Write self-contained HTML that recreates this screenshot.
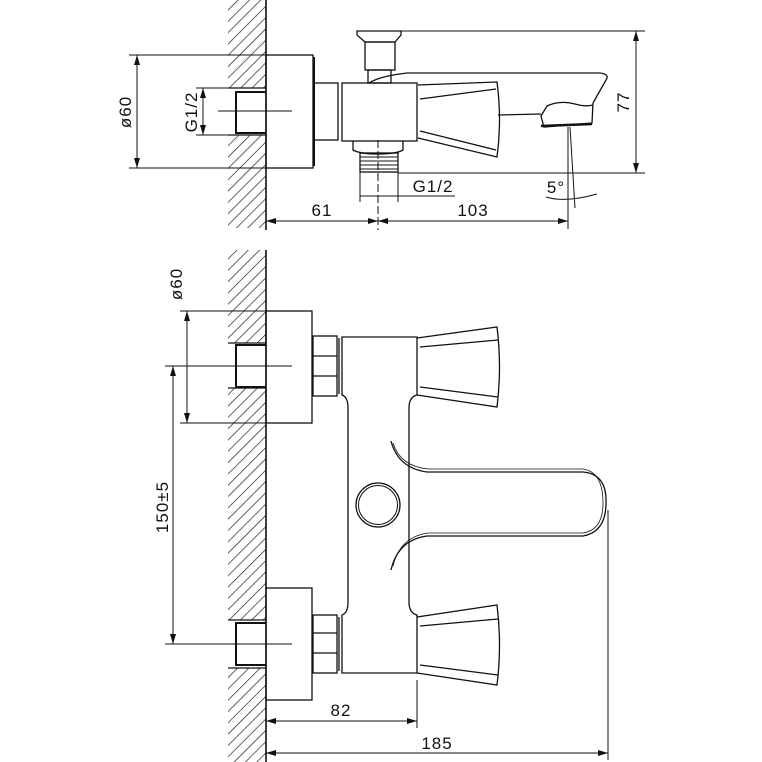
<!DOCTYPE html>
<html><head><meta charset="utf-8"><style>
html,body{margin:0;padding:0;background:#fff;}
svg{display:block;}
text{font-family:"Liberation Sans",sans-serif;font-size:17px;letter-spacing:1px;fill:#111;}
</style></head><body>
<svg width="762" height="762" viewBox="0 0 762 762" xmlns="http://www.w3.org/2000/svg">
<defs>
<pattern id="h" width="8" height="8" patternUnits="userSpaceOnUse" patternTransform="rotate(45)">
<line x1="0" y1="0" x2="0" y2="8" stroke="#222" stroke-width="1.4"/>
</pattern>
<marker id="a" viewBox="0 0 10 6" refX="10" refY="3" markerWidth="10" markerHeight="6" orient="auto-start-reverse" markerUnits="userSpaceOnUse">
<path d="M0,0L10,3L0,6z" fill="#111"/>
</marker>
</defs>
<g fill="none" stroke="#111" stroke-width="1.3">
<rect x="228" y="0" width="38" height="88" fill="url(#h)" stroke="none"/>
<rect x="228" y="135" width="38" height="93" fill="url(#h)" stroke="none"/>
<line x1="266" y1="0" x2="266" y2="230" stroke-width="1.6"/>
<polyline points="266,92 236,92 236,133 266,133" stroke-width="2"/>
<line x1="228" y1="88" x2="266" y2="88"/><line x1="228" y1="135" x2="266" y2="135"/>
<line x1="218" y1="111" x2="292" y2="111" stroke-width="1"/>
<rect x="266" y="55" width="47" height="113"/>
<line x1="314" y1="57" x2="314" y2="166" stroke-width="2"/>
<line x1="129" y1="55" x2="266" y2="55" stroke-width="1"/>
<line x1="129" y1="168" x2="266" y2="168" stroke-width="1"/>
<line x1="137" y1="55" x2="137" y2="168" stroke-width="1" marker-start="url(#a)" marker-end="url(#a)"/>
<line x1="196" y1="88" x2="228" y2="88" stroke-width="1"/>
<line x1="196" y1="135" x2="228" y2="135" stroke-width="1"/>
<line x1="203" y1="88" x2="203" y2="135" stroke-width="1" marker-start="url(#a)" marker-end="url(#a)"/>
<rect x="314" y="83" width="24" height="57"/>
<rect x="342" y="83" width="75" height="58"/>
<path d="M357,31 L401,31 L401,35 L395,42 L365,42 L357,35 Z"/>
<rect x="365" y="42" width="30" height="28"/>
<rect x="368" y="70" width="23" height="13"/>
<path d="M369,83 Q380,76 407,73 L600,73 Q610,74 606,80 L593,103"/>
<path d="M593,103 L592,123 L544,127 L541,116 L547,106 Q560,100 575,104 Q585,107 593,105"/>
<line x1="541" y1="126" x2="592" y2="124" stroke-width="2.5"/>
<line x1="498" y1="115" x2="541" y2="114"/>
<path d="M418,85 L497,82 Q502,120 497,157 L418,138"/>
<line x1="420" y1="99" x2="496" y2="89"/>
<line x1="420" y1="131" x2="496" y2="150"/>
<path d="M353,141 L353,150 Q360,154 378,154 Q396,154 403,150 L403,141"/>
<rect x="360" y="153" width="38" height="19"/>
<g stroke-width="1"><line x1="360" y1="157" x2="398" y2="157"/><line x1="360" y1="161" x2="398" y2="161"/><line x1="360" y1="165" x2="398" y2="165"/><line x1="360" y1="169" x2="398" y2="169"/></g>
<g stroke-width="1">
<line x1="401" y1="31" x2="645" y2="31"/>
<line x1="398" y1="173" x2="645" y2="173"/>
<line x1="636" y1="31" x2="636" y2="173" marker-start="url(#a)" marker-end="url(#a)"/>
<line x1="360" y1="172" x2="360" y2="202"/>
<line x1="398" y1="172" x2="398" y2="202"/>
<line x1="360" y1="196" x2="455" y2="196"/>
<line x1="378" y1="140" x2="378" y2="230" stroke-dasharray="8,3"/>
<line x1="266" y1="221" x2="378" y2="221" marker-start="url(#a)" marker-end="url(#a)"/>
<line x1="378" y1="221" x2="568" y2="221" marker-start="url(#a)" marker-end="url(#a)"/>
<line x1="568" y1="127" x2="568" y2="229"/>
<line x1="570" y1="127" x2="575" y2="208"/>
<path d="M546,197 Q565,203 597,194"/>
</g>
<rect x="228" y="250" width="38" height="93" fill="url(#h)" stroke="none"/>
<rect x="228" y="388" width="38" height="232" fill="url(#h)" stroke="none"/>
<rect x="228" y="668" width="38" height="94" fill="url(#h)" stroke="none"/>
<line x1="266" y1="250" x2="266" y2="762" stroke-width="1.6"/>
<line x1="228" y1="343" x2="266" y2="343"/><line x1="228" y1="388" x2="266" y2="388"/>
<line x1="228" y1="620" x2="266" y2="620"/><line x1="228" y1="668" x2="266" y2="668"/>
<polyline points="266,345 236,345 236,387 266,387" stroke-width="2"/>
<polyline points="266,623 236,623 236,665 266,665" stroke-width="2"/>
<g stroke-width="1">
<line x1="165" y1="366" x2="292" y2="366"/>
<line x1="165" y1="644" x2="292" y2="644"/>
<line x1="173" y1="366" x2="173" y2="644" marker-start="url(#a)" marker-end="url(#a)"/>
<line x1="180" y1="311" x2="266" y2="311"/>
<line x1="180" y1="423" x2="266" y2="423"/>
<line x1="187" y1="311" x2="187" y2="423" marker-start="url(#a)" marker-end="url(#a)"/>
</g>
<rect x="266" y="311" width="46" height="112"/>
<rect x="266" y="588" width="46" height="112"/>
<rect x="313" y="336" width="24" height="60"/>
<line x1="313" y1="356" x2="337" y2="356"/><line x1="313" y1="376" x2="337" y2="376"/>
<line x1="339" y1="338" x2="339" y2="394"/>
<rect x="313" y="615" width="24" height="58"/>
<line x1="313" y1="633" x2="337" y2="633"/><line x1="313" y1="653" x2="337" y2="653"/>
<line x1="339" y1="617" x2="339" y2="671"/>
<path d="M342,337 L417,337 L417,395 Q409,397 409,408 L409,602 Q409,613 417,615 L417,673 L342,673 L342,615 Q348,613 348,602 L348,408 Q348,397 342,395 Z"/>
<path d="M391,441 Q398,468 427,472 L583,472 Q607,474 606,503 Q606,532 583,536 L427,536 Q398,540 391,570"/>
<path d="M393,443 Q400,466 428,469 L583,469 Q603,472 603,503 Q603,530 583,533 L428,533 Q400,537 393,566" stroke-width="0.8"/>
<circle cx="378" cy="505" r="22"/>
<circle cx="378" cy="505" r="19.5" stroke-width="1"/>
<path d="M417,338 L497,327 Q502,367 497,407 L417,395"/>
<line x1="420" y1="347" x2="498" y2="340"/><line x1="420" y1="387" x2="498" y2="397"/>
<path d="M417,617 L497,605 Q502,645 497,685 L417,673"/>
<line x1="420" y1="626" x2="498" y2="619"/><line x1="420" y1="665" x2="498" y2="675"/>
<g stroke-width="1">
<line x1="417" y1="680" x2="417" y2="728"/>
<line x1="266" y1="721" x2="417" y2="721" marker-start="url(#a)" marker-end="url(#a)"/>
<line x1="608" y1="510" x2="608" y2="760"/>
<line x1="266" y1="753" x2="608" y2="753" marker-start="url(#a)" marker-end="url(#a)"/>
</g>
</g>
<text transform="translate(131,112) rotate(-90)" text-anchor="middle">ø60</text>
<text transform="translate(197,112) rotate(-90)" text-anchor="middle">G1/2</text>
<text transform="translate(629,102) rotate(-90)" text-anchor="middle">77</text>
<text x="433" y="192" text-anchor="middle">G1/2</text>
<text x="556" y="193" text-anchor="middle">5°</text>
<text x="322" y="216" text-anchor="middle">61</text>
<text x="473" y="216" text-anchor="middle">103</text>
<text transform="translate(182,284) rotate(-90)" text-anchor="middle">ø60</text>
<text transform="translate(168,507) rotate(-90)" text-anchor="middle">150±5</text>
<text x="341" y="716" text-anchor="middle">82</text>
<text x="437" y="749" text-anchor="middle">185</text>
</svg>
</body></html>
